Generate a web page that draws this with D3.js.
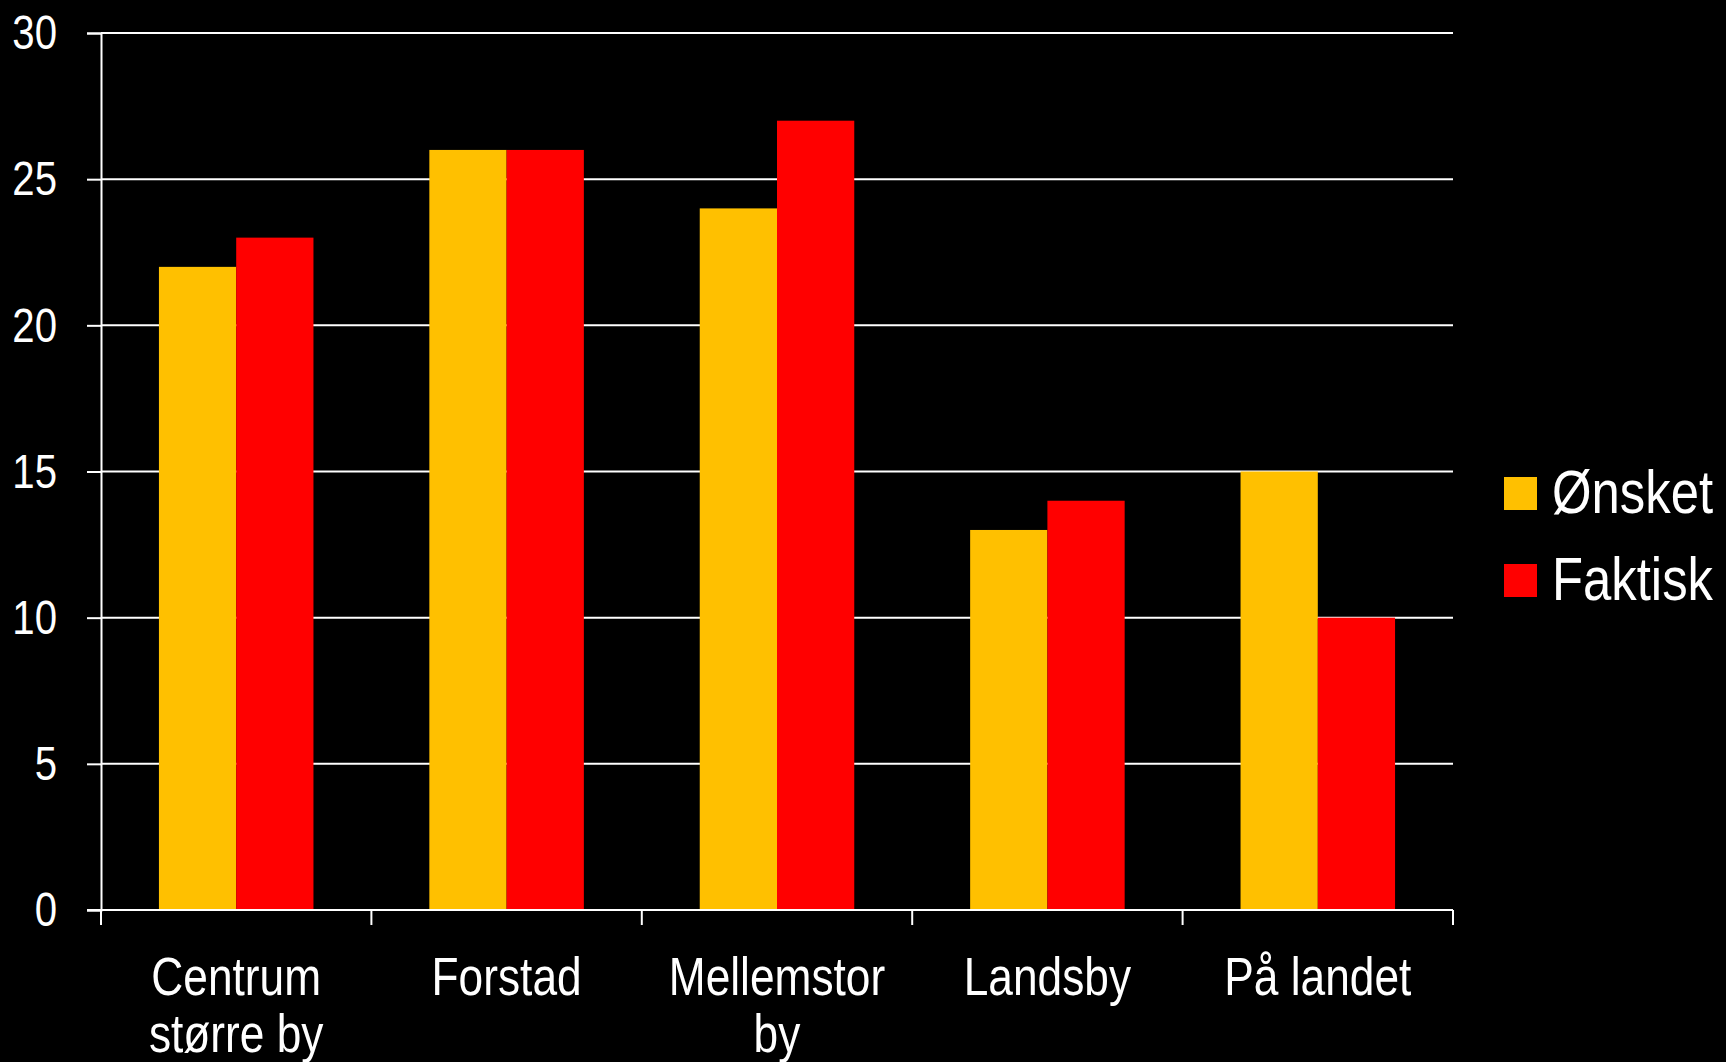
<!DOCTYPE html>
<html>
<head>
<meta charset="utf-8">
<script src="https://cdn.jsdelivr.net/npm/d3@7"></script>
<style>
  html, body { margin: 0; padding: 0; background: #000; }
  svg { display: block; }
  text { font-family: "Liberation Sans", Arial, sans-serif; fill: #fff; }
</style>
</head>
<body>
<svg id="chart" width="1726" height="1062"></svg>
<script>
const categories = [["Centrum", "større by"], ["Forstad"], ["Mellemstor", "by"], ["Landsby"], ["På landet"]];
const seriesNames = ["Ønsket", "Faktisk"];
const onsket = [22, 26, 24, 13, 15];
const faktisk = [23, 26, 27, 14, 10];
const yTicks = [0, 5, 10, 15, 20, 25, 30];
const colors = ["#FFC000", "#FF0000"];

const NARROW = 0.82; // emulate a narrow (condensed) sans face
function condense(sel) {
  sel.each(function() {
    const xv = parseFloat(this.getAttribute("x")) || 0;
    this.setAttribute("transform", `matrix(${NARROW},0,0,1,${xv * (1 - NARROW)},0)`);
  });
}

const W = 1726, H = 1062;
const margin = { left: 101, right: 1726 - 1453, top: 33, bottom: 1062 - 910 };
const svg = d3.select("#chart");
svg.append("rect").attr("width", W).attr("height", H).attr("fill", "#000");

const x = d3.scaleBand().domain(d3.range(categories.length)).range([margin.left, W - margin.right]).paddingInner(0).paddingOuter(0);
const y = d3.scaleLinear().domain([0, 30]).range([H - margin.bottom, margin.top]);
const bw = x.bandwidth() / 3.5;
const xs = d3.scaleBand().domain([0, 1]).range([0.75 * bw, 2.75 * bw]);

// gridlines
svg.append("g").selectAll("line").data(yTicks.filter(d => d > 0)).join("line")
  .attr("x1", margin.left).attr("x2", W - margin.right)
  .attr("y1", d => y(d)).attr("y2", d => y(d))
  .attr("stroke", "#fff").attr("stroke-width", 2);

// bars
const data = categories.map((c, i) => [onsket[i], faktisk[i]]);
const g = svg.append("g").selectAll("g").data(data).join("g")
  .attr("transform", (d, i) => `translate(${x(i)},0)`);
g.selectAll("rect").data(d => d).join("rect")
  .attr("x", (d, j) => xs(j)).attr("width", xs.bandwidth())
  .attr("y", d => y(d)).attr("height", d => y(0) - y(d))
  .attr("fill", (d, j) => colors[j]);

// y axis
const yAxis = svg.append("g").attr("transform", `translate(${margin.left},0)`)
  .call(d3.axisLeft(y).tickValues(yTicks).tickSize(14).tickPadding(30).tickFormat(d3.format("d")));
yAxis.select(".domain").attr("stroke", "#fff").attr("stroke-width", 2);
yAxis.selectAll(".tick line").attr("stroke", "#fff").attr("stroke-width", 2);
yAxis.selectAll(".tick text").attr("font-size", 49).attr("fill", "#fff")
  .style("font-family", "'Liberation Sans', Arial, sans-serif");
condense(yAxis.selectAll(".tick text"));

// x axis
const xb = svg.append("g").attr("transform", `translate(0,${y(0)})`);
xb.append("line").attr("x1", margin.left - 14).attr("x2", W - margin.right)
  .attr("stroke", "#fff").attr("stroke-width", 2);
const bounds = d3.range(categories.length + 1).map(i => i < categories.length ? x(i) : x(i - 1) + x.bandwidth());
xb.selectAll("line.tk").data(bounds).join("line").attr("class", "tk")
  .attr("x1", d => d).attr("x2", d => d).attr("y1", 0).attr("y2", 15)
  .attr("stroke", "#fff").attr("stroke-width", 2);

const labels = svg.append("g").selectAll("text").data(categories).join("text")
  .attr("text-anchor", "middle").attr("font-size", 54)
  .attr("x", (d, i) => x(i) + x.bandwidth() / 2).attr("y", 995);
labels.selectAll("tspan").data(d => d).join("tspan")
  .attr("x", function() { return this.parentNode.getAttribute("x"); })
  .attr("dy", (d, k) => k === 0 ? 0 : 57)
  .text(d => d);
condense(labels);

// legend
const lg = svg.append("g").selectAll("g").data(seriesNames).join("g")
  .attr("transform", (d, i) => `translate(1504,${477 + i * 87})`);
lg.append("rect").attr("width", 33).attr("height", 33).attr("fill", (d, i) => colors[i]);
const lt = lg.append("text").attr("x", 48).attr("y", 36).attr("font-size", 62).text(d => d);
condense(lt);
</script>
</body>
</html>
